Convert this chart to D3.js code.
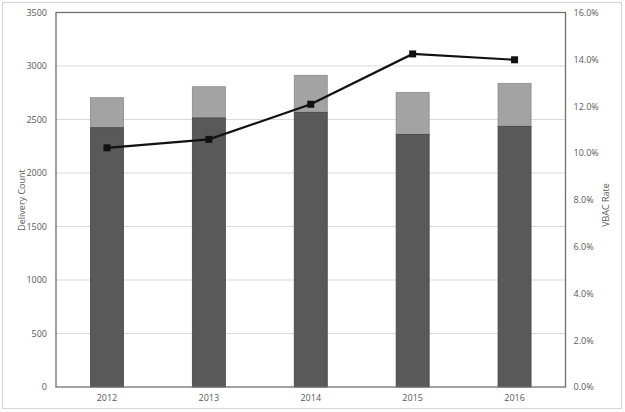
<!DOCTYPE html>
<html><head><meta charset="utf-8">
<script src="https://cdn.jsdelivr.net/npm/d3@7"></script>
<style>body{margin:0;background:#fff}svg{display:block}text{font-family:"Open Sans","Liberation Sans",sans-serif}</style>
</head><body><svg id="c" width="625" height="412"></svg>
<script>
const years = ["2012","2013","2014","2015","2016"];
const vbacDeliveries = [2423, 2514, 2567, 2361, 2436];
const totalDeliveries = [2704, 2806, 2913, 2754, 2838];
const vbacRate = [0.1022, 0.1058, 0.1208, 0.1423, 0.1398];
const leftTicks = [0,500,1000,1500,2000,2500,3000,3500];
const rightTicks = [0,0.02,0.04,0.06,0.08,0.10,0.12,0.14,0.16];

const svg = d3.select("#c");
const L = 56, R = 565.5, T = 12.5, B = 387;
svg.append("rect").attr("x",2.5).attr("y",2.5).attr("width",619).attr("height",406)
  .attr("fill","#fff").attr("stroke","#d4d4d4");

const x = d3.scaleBand().domain(years).range([L,R]).paddingInner(0.676).paddingOuter(0.338);
const y = d3.scaleLinear().domain([0,3500]).range([B,T]);
const y2 = d3.scaleLinear().domain([0,0.16]).range([B,T]);

// gridlines
svg.append("g").selectAll("line").data(leftTicks.slice(1,-1)).join("line")
  .attr("x1",L).attr("x2",R).attr("y1",d=>y(d)).attr("y2",d=>y(d))
  .attr("stroke","#d9d9d9").attr("stroke-width",1);

// bars
const g = svg.append("g");
g.selectAll(".tot").data(years).join("rect")
  .attr("x",d=>x(d)).attr("width",x.bandwidth())
  .attr("y",(d,i)=>y(totalDeliveries[i])).attr("height",(d,i)=>y(vbacDeliveries[i])-y(totalDeliveries[i]))
  .attr("fill","#a3a3a3").attr("stroke","#8a8a8a").attr("stroke-width",0.8);
g.selectAll(".vb").data(years).join("rect")
  .attr("x",d=>x(d)).attr("width",x.bandwidth())
  .attr("y",(d,i)=>y(vbacDeliveries[i])).attr("height",(d,i)=>B-y(vbacDeliveries[i]))
  .attr("fill","#595959").attr("stroke","#444").attr("stroke-width",0.8);

// plot border
svg.append("rect").attr("x",L).attr("y",T).attr("width",R-L).attr("height",B-T)
  .attr("fill","none").attr("stroke","#6f6f6f").attr("stroke-width",1.3);

// line
const line = d3.line().x((d,i)=>x(years[i])+x.bandwidth()/2).y(d=>y2(d));
svg.append("path").datum(vbacRate).attr("d",line).attr("fill","none")
  .attr("stroke","#111").attr("stroke-width",2.2);
svg.append("g").selectAll("rect").data(vbacRate).join("rect")
  .attr("x",(d,i)=>x(years[i])+x.bandwidth()/2-3.5).attr("y",d=>y2(d)-3.5)
  .attr("width",7).attr("height",7).attr("fill","#111");

// axes
const lab = "#595959";
const la = svg.append("g").attr("transform",`translate(${L},0)`)
  .call(d3.axisLeft(y).tickValues(leftTicks).tickFormat(d3.format("d")).tickSize(0).tickPadding(9));
la.select(".domain").remove();
la.selectAll("text").attr("fill",lab).attr("font-size",9).style("font-family","'Open Sans',sans-serif");
const ra = svg.append("g").attr("transform",`translate(${R},0)`)
  .call(d3.axisRight(y2).tickValues(rightTicks).tickFormat(d3.format(".1%")).tickSize(0).tickPadding(8));
ra.select(".domain").remove();
ra.selectAll("text").attr("fill",lab).attr("font-size",9).style("font-family","'Open Sans',sans-serif");
const xa = svg.append("g").attr("transform",`translate(0,${B})`)
  .call(d3.axisBottom(x).tickSize(0).tickPadding(8));
xa.select(".domain").remove();
xa.selectAll("text").attr("fill",lab).attr("font-size",9).style("font-family","'Open Sans',sans-serif");

svg.append("text").attr("transform","translate(25,200) rotate(-90)").attr("text-anchor","middle")
  .attr("font-size",9).attr("fill",lab).text("Delivery Count");
svg.append("text").attr("transform","translate(609,205) rotate(-90)").attr("text-anchor","middle")
  .attr("font-size",9).attr("fill",lab).text("VBAC Rate");
</script></body></html>
